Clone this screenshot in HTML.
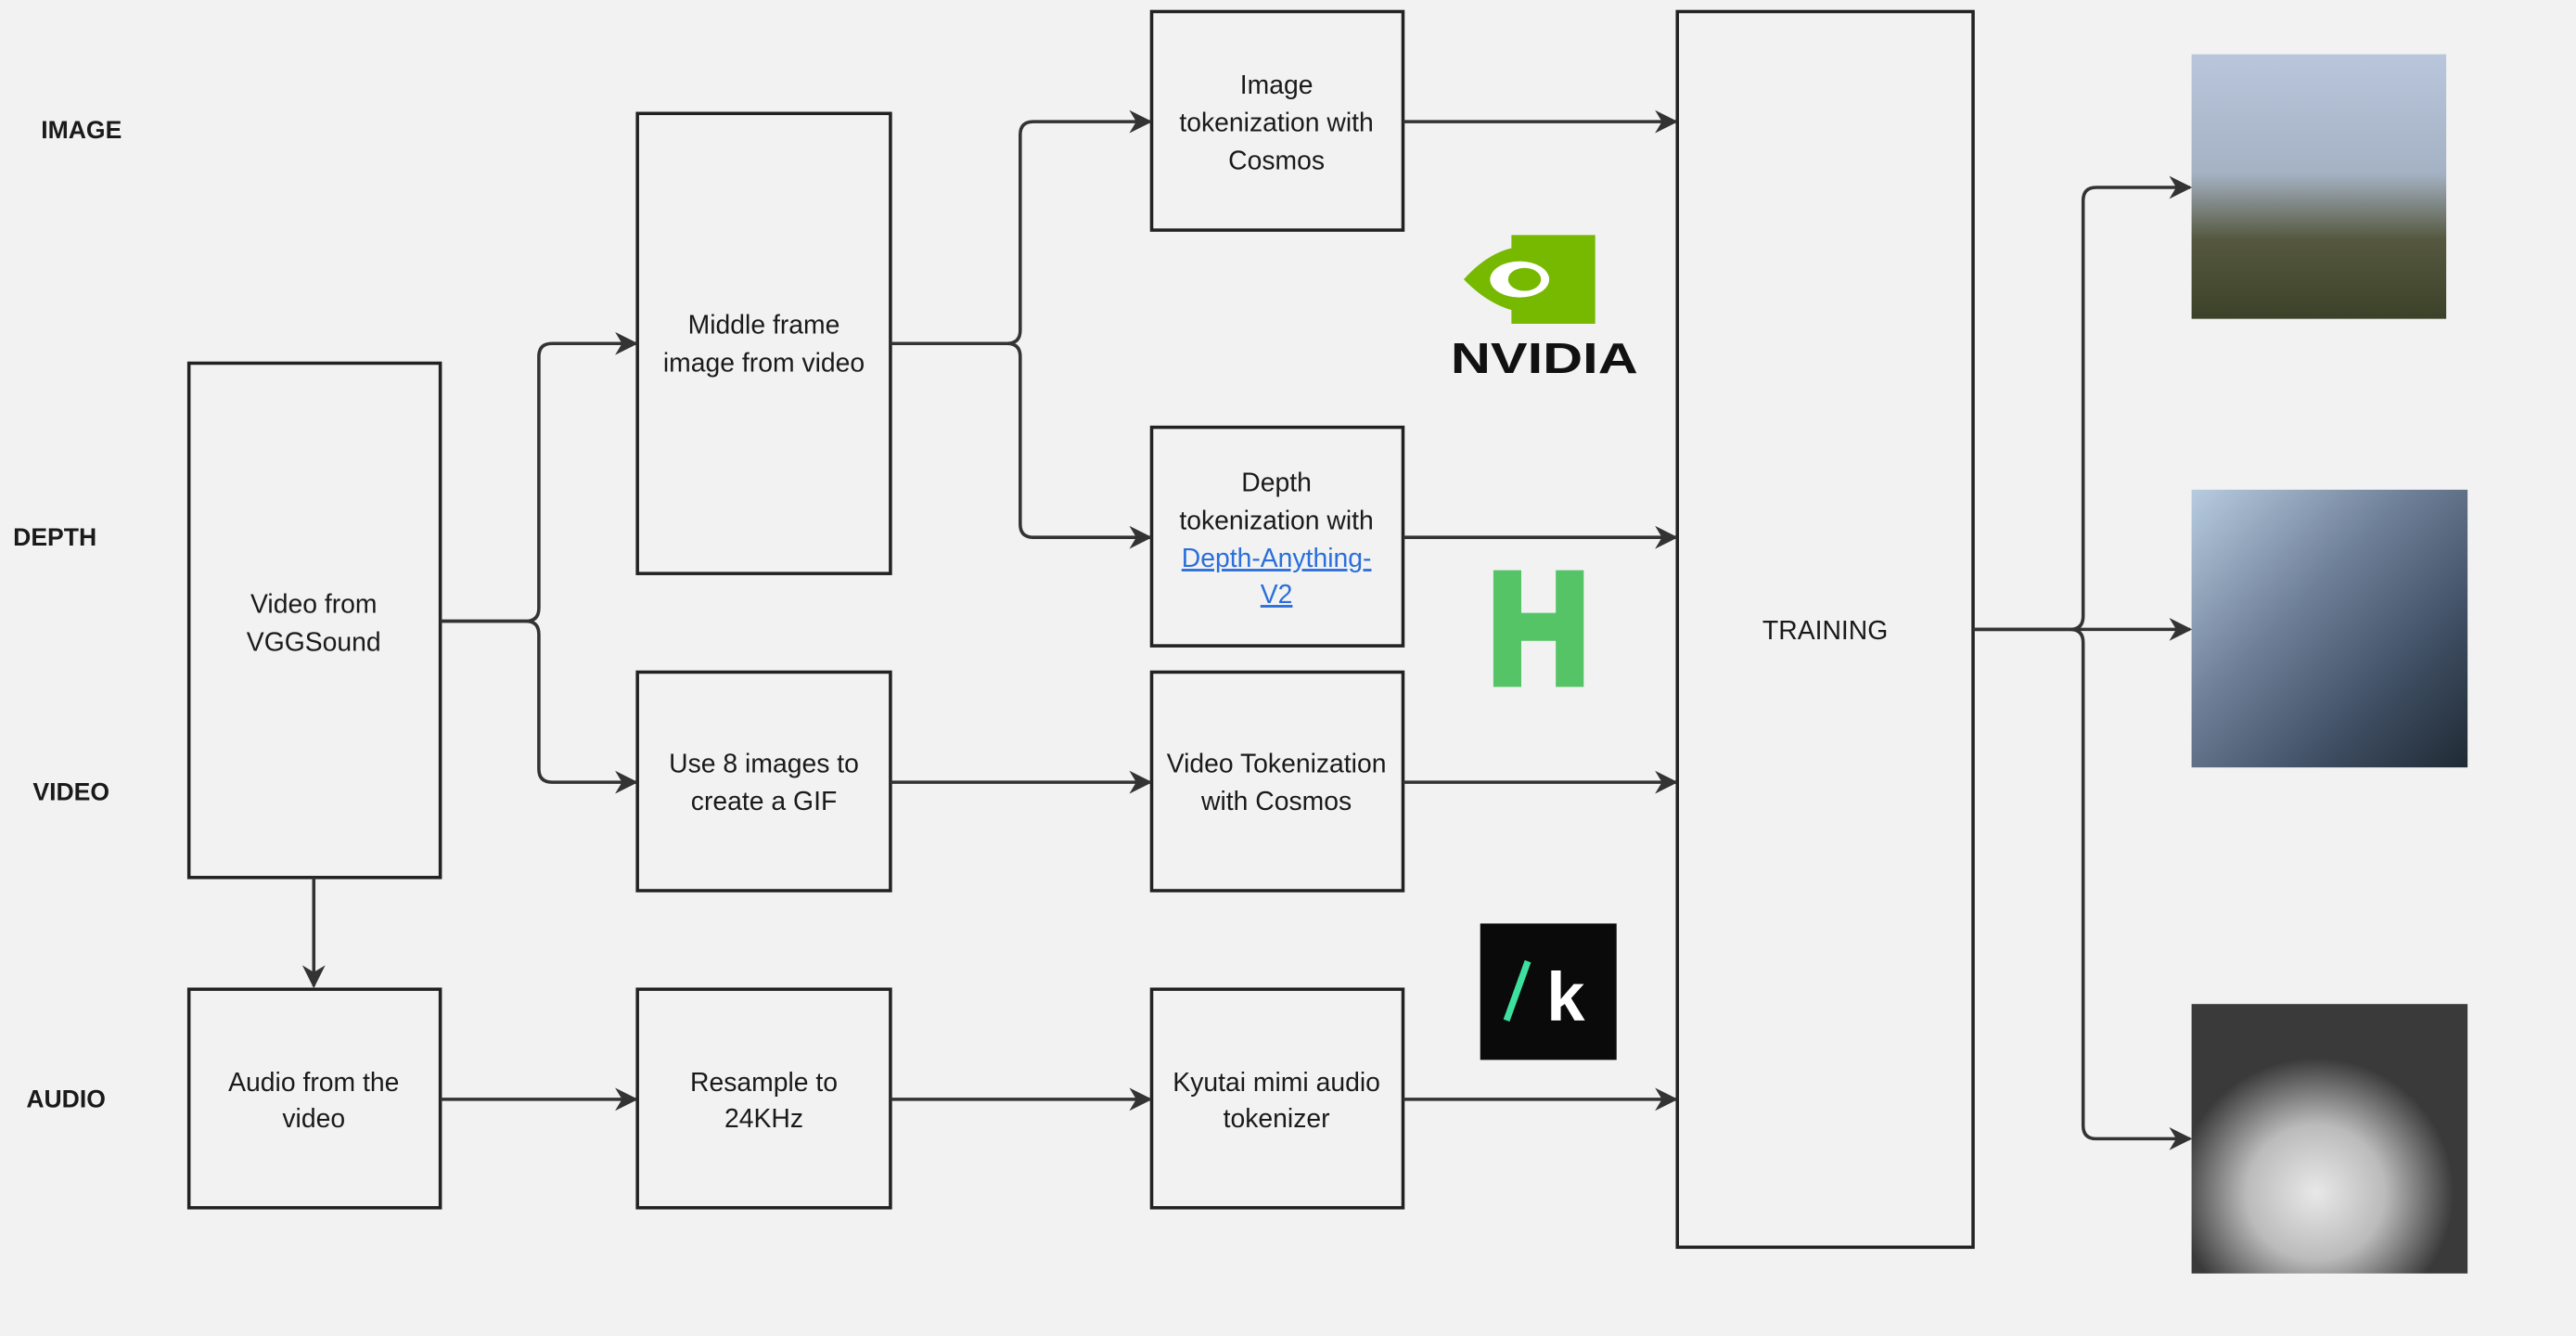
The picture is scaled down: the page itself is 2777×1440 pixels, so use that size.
<!DOCTYPE html>
<html><head><meta charset="utf-8"><style>
html,body{margin:0;padding:0;background:#f2f2f2;width:2777px;height:1440px;overflow:hidden}
svg{display:block}
text{font-family:"Liberation Sans","DejaVu Sans",sans-serif;fill:#1a1a1a}
</style></head><body>
<svg width="2777" height="1440" viewBox="0 0 1568 813" xmlns="http://www.w3.org/2000/svg">
<defs>
<marker id="a" viewBox="0 0 10 10" refX="9" refY="5" markerWidth="14" markerHeight="14" orient="auto" markerUnits="userSpaceOnUse"><path d="M0,0 L10,5 L0,10 L3,5 z" fill="#333"/></marker>
<linearGradient id="g1" x1="0" y1="0" x2="0" y2="1"><stop offset="0" stop-color="#b9c6dc"/><stop offset="0.45" stop-color="#a5b2c4"/><stop offset="0.7" stop-color="#55583f"/><stop offset="1" stop-color="#3c4229"/></linearGradient>
<linearGradient id="g2" x1="0" y1="0" x2="1" y2="1"><stop offset="0" stop-color="#b8cce0"/><stop offset="0.4" stop-color="#6e7f98"/><stop offset="0.75" stop-color="#3b4a5e"/><stop offset="1" stop-color="#1f2a33"/></linearGradient>
<radialGradient id="g3" cx="0.45" cy="0.7" r="0.5"><stop offset="0" stop-color="#e8e8e8"/><stop offset="0.5" stop-color="#bbbbbb"/><stop offset="1" stop-color="#3a3a3a"/></radialGradient>
</defs>
<rect width="1568" height="813" fill="#f2f2f2"/>
<g font-weight="bold" font-size="15">
<text x="25" y="84">IMAGE</text><text x="8" y="332">DEPTH</text><text x="20" y="487">VIDEO</text><text x="16" y="674">AUDIO</text>
</g>
<g fill="none" stroke="#222" stroke-width="2">
<rect x="115" y="221" width="153" height="313"/>
<rect x="115" y="602" width="153" height="133"/>
<rect x="388" y="69" width="154" height="280"/>
<rect x="388" y="409" width="154" height="133"/>
<rect x="388" y="602" width="154" height="133"/>
<rect x="701" y="7" width="153" height="133"/>
<rect x="701" y="260" width="153" height="133"/>
<rect x="701" y="409" width="153" height="133"/>
<rect x="701" y="602" width="153" height="133"/>
<rect x="1021" y="7" width="180" height="752"/>
</g>
<g fill="none" stroke="#333" stroke-width="2" marker-end="url(#a)">
<path d="M268,378 H320 Q328,378 328,370 V217 Q328,209 336,209 H387"/>
<path d="M268,378 H320 Q328,378 328,386 V468 Q328,476 336,476 H387"/>
<path d="M542,209 H613 Q621,209 621,201 V82 Q621,74 629,74 H700"/>
<path d="M542,209 H613 Q621,209 621,217 V319 Q621,327 629,327 H700"/>
<path d="M191,534 V600"/>
<path d="M268,669 H387"/><path d="M542,476 H700"/><path d="M542,669 H700"/>
<path d="M854,74 H1020"/><path d="M854,327 H1020"/><path d="M854,476 H1020"/><path d="M854,669 H1020"/>
<path d="M1201,383 H1260 Q1268,383 1268,375 V122 Q1268,114 1276,114 H1333"/>
<path d="M1201,383 H1333"/>
<path d="M1201,383 H1260 Q1268,383 1268,391 V685 Q1268,693 1276,693 H1333"/>
</g>
<g font-size="16" text-anchor="middle">
<text x="191" y="373">Video from</text><text x="191" y="396">VGGSound</text>
<text x="191" y="664">Audio from the</text><text x="191" y="686">video</text>
<text x="465" y="203">Middle frame</text><text x="465" y="226">image from video</text>
<text x="465" y="470">Use 8 images to</text><text x="465" y="493">create a GIF</text>
<text x="465" y="664">Resample to</text><text x="465" y="686">24KHz</text>
<text x="777" y="57">Image</text><text x="777" y="80">tokenization with</text><text x="777" y="103">Cosmos</text>
<text x="777" y="299">Depth</text><text x="777" y="322">tokenization with</text>
<text x="777" y="345" style="fill:#2a6fdb" text-decoration="underline">Depth-Anything-</text>
<text x="777" y="367" style="fill:#2a6fdb" text-decoration="underline">V2</text>
<text x="777" y="470">Video Tokenization</text><text x="777" y="493">with Cosmos</text>
<text x="777" y="664">Kyutai mimi audio</text><text x="777" y="686">tokenizer</text>
<text x="1111" y="389">TRAINING</text>
</g>
<rect x="920" y="143" width="51" height="54" fill="#76b900"/>
<path d="M891,170 Q915,143 945,152 L945,190 Q915,195 891,170 Z" fill="#76b900"/>
<ellipse cx="925" cy="170" rx="18" ry="11" fill="#fff"/>
<ellipse cx="928" cy="170" rx="10" ry="7" fill="#76b900"/>
<text x="940" y="227" text-anchor="middle" font-size="26" font-weight="bold" textLength="114" lengthAdjust="spacingAndGlyphs" style="fill:#111">NVIDIA</text>
<path d="M909,347 h17 v26 h21 v-26 h17 v71 h-17 v-28 h-21 v28 h-17 z" fill="#55c466"/>
<rect x="901" y="562" width="83" height="83" fill="#0a0a0a"/>
<path d="M917,621 L930,585" stroke="#3ee0a0" stroke-width="4"/>
<text x="953" y="621" text-anchor="middle" font-size="42" font-weight="bold" style="fill:#fff">k</text>
<rect x="1334" y="33" width="155" height="161" fill="url(#g1)"/>
<rect x="1334" y="298" width="168" height="169" fill="url(#g2)"/>
<rect x="1334" y="611" width="168" height="164" fill="url(#g3)"/>
</svg>
</body></html>
